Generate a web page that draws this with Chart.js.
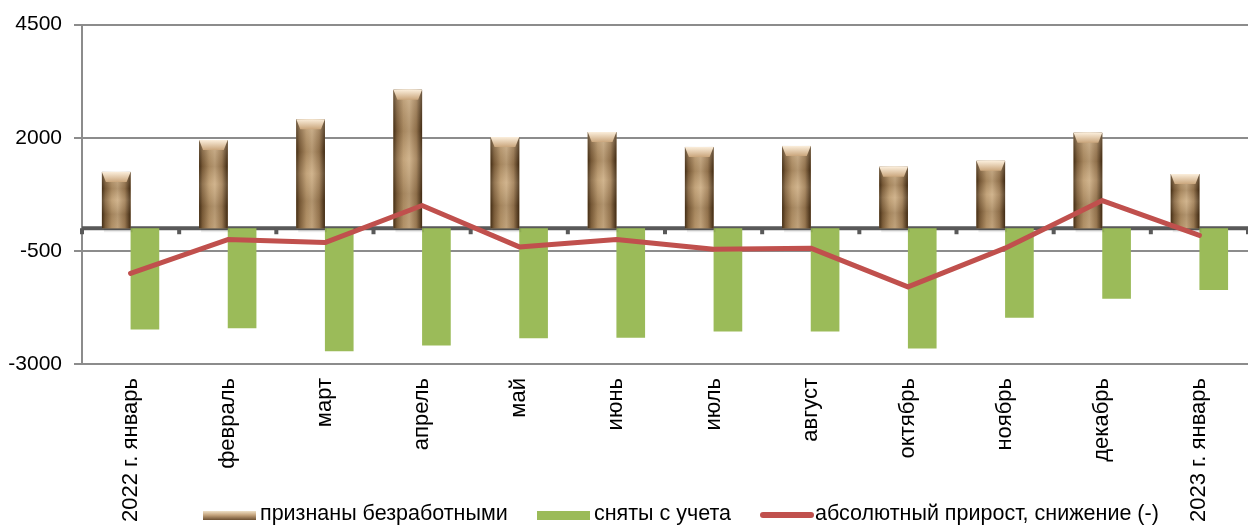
<!DOCTYPE html>
<html>
<head>
<meta charset="utf-8">
<script src="https://cdn.jsdelivr.net/npm/chart.js@4/dist/chart.umd.min.js"></script>
<style>
html,body{margin:0;padding:0;background:#fff;}
#wrap{position:relative;width:1248px;height:526px;}
#legend{position:absolute;left:0;top:501px;width:1248px;height:25px;font-family:"Liberation Sans",Arial,sans-serif;font-size:21.5px;color:#000;}
.sw{position:absolute;top:10px;height:9px;}
.tx{position:absolute;top:0;line-height:25px;white-space:nowrap;}
</style>
</head>
<body>
<div id="wrap">
<canvas id="c" width="1248" height="526"></canvas>
<div id="legend">
  <div class="sw" style="left:203px;width:53px;background:linear-gradient(to bottom,#efe0c6 0%,#c4a37c 45%,#6d5032 100%);"></div>
  <div class="tx" style="left:260px;">признаны безработными</div>
  <div class="sw" style="left:537px;width:53px;background:#9BBB59;"></div>
  <div class="tx" style="left:594px;">сняты с учета</div>
  <div class="sw" style="left:760px;width:54px;top:11px;height:6px;border-radius:3px;background:#C0504D;"></div>
  <div class="tx" style="left:815px;">абсолютный прирост, снижение (-)</div>
</div>
</div>
<script>
const categories = ['2022 г. январь','февраль','март','апрель','май','июнь','июль','август','октябрь','ноябрь','декабрь','2023 г. январь'];
const registered = [1245, 1950, 2410, 3061, 2015, 2125, 1796, 1818, 1357, 1489, 2110, 1197];
const removed = [-2237, -2210, -2721, -2590, -2430, -2421, -2283, -2283, -2656, -1976, -1560, -1362];
const change = [-996, -250, -316, 502, -412, -250, -463, -441, -1296, -441, 612, -156];
const yTicks = [-3000, -500, 2000, 4500];

const zeroLinePlugin = {
  id: 'zeroLine',
  beforeDatasetsDraw(chart) {
    const {ctx, chartArea, scales} = chart;
    const y0 = scales.y.getPixelForValue(0);
    ctx.save();
    ctx.fillStyle = '#595959';
    ctx.fillRect(chartArea.left, y0 - 2, chartArea.right - chartArea.left, 4);
    const n = categories.length;
    for (let i = 0; i <= n; i++) {
      let x;
      if (i === 0) x = chartArea.left;
      else if (i === n) x = chartArea.right;
      else x = (scales.x.getPixelForValue(i - 1) + scales.x.getPixelForValue(i)) / 2;
      ctx.fillRect(x - 2, y0, 4, 6);
    }
    ctx.restore();
  }
};

const texturePlugin = {
  id: 'texture',
  afterDatasetDraw(chart, args) {
    if (args.index !== 0) return;
    const {ctx} = chart;
    const meta = chart.getDatasetMeta(0);
    ctx.save();
    meta.data.forEach((bar) => {
      const p = bar.getProps(['x', 'y', 'base', 'width'], true);
      const l = p.x - p.width / 2, r = p.x + p.width / 2;
      const t = Math.min(p.y, p.base), b = Math.max(p.y, p.base);
      ctx.fillStyle = 'rgba(0,0,0,0.08)';
      ctx.fillRect(l + 2, b, p.width, 4);
      const g = ctx.createLinearGradient(l, 0, r, 0);
      g.addColorStop(0, '#3e2a14');
      g.addColorStop(0.12, '#7d5e3b');
      g.addColorStop(0.35, '#b8976d');
      g.addColorStop(0.55, '#c9ab84');
      g.addColorStop(0.8, '#9c7b55');
      g.addColorStop(1, '#3a2510');
      ctx.fillStyle = g;
      ctx.fillRect(l, t, p.width, b - t);
      const v = ctx.createLinearGradient(0, t, 0, b);
      v.addColorStop(0, 'rgba(255,240,215,0.25)');
      v.addColorStop(0.3, 'rgba(80,55,25,0.18)');
      v.addColorStop(0.5, 'rgba(255,235,200,0.15)');
      v.addColorStop(0.75, 'rgba(80,55,25,0.2)');
      v.addColorStop(1, 'rgba(120,90,50,0.1)');
      ctx.fillStyle = v;
      ctx.fillRect(l, t, p.width, b - t);
      const bh = Math.min(10, (b - t) / 3);
      const bg = ctx.createLinearGradient(0, t, 0, t + bh);
      bg.addColorStop(0, '#fbeedb');
      bg.addColorStop(1, '#caa67c');
      ctx.fillStyle = bg;
      ctx.beginPath();
      ctx.moveTo(l, t);
      ctx.lineTo(r, t);
      ctx.lineTo(r - 4, t + bh);
      ctx.lineTo(l + 4, t + bh);
      ctx.closePath();
      ctx.fill();
    });
    ctx.restore();
  }
};

const FONT = '"Liberation Sans", Arial, sans-serif';

new Chart(document.getElementById('c'), {
  data: {
    labels: categories,
    datasets: [
      {type: 'bar', label: 'признаны безработными', data: registered, backgroundColor: '#b8976d', order: 2,
       categoryPercentage: 0.59, barPercentage: 1.0},
      {type: 'bar', label: 'сняты с учета', data: removed, backgroundColor: '#9BBB59', order: 2,
       categoryPercentage: 0.59, barPercentage: 1.0},
      {type: 'line', label: 'абсолютный прирост, снижение (-)', data: change, borderColor: '#C0504D',
       borderWidth: 5, pointRadius: 0, borderCapStyle: 'round', borderJoinStyle: 'round', tension: 0, order: 1}
    ]
  },
  options: {
    responsive: false,
    animation: false,
    devicePixelRatio: 1,
    layout: {padding: {top: 24, right: 0, left: 0, bottom: 0}},
    plugins: {legend: {display: false}, tooltip: {enabled: false}},
    scales: {
      x: {
        grid: {display: false, drawTicks: false},
        border: {display: false},
        ticks: {minRotation: 90, maxRotation: 90, autoSkip: false, padding: 14, color: '#000',
                font: {family: FONT, size: 22}},
        afterFit(s) { s.height = 162; }
      },
      y: {
        min: -3000, max: 4500,
        afterBuildTicks(s) { s.ticks = yTicks.map(v => ({value: v})); },
        grid: {color: '#8c8c8c', lineWidth: 2, tickLength: 8},
        border: {color: '#8c8c8c', width: 2},
        ticks: {color: '#000', padding: 12, font: {family: FONT, size: 21},
                callback: (v) => String(v)},
        afterFit(s) { s.width = 82; }
      }
    }
  },
  plugins: [zeroLinePlugin, texturePlugin]
});
</script>
</body>
</html>
